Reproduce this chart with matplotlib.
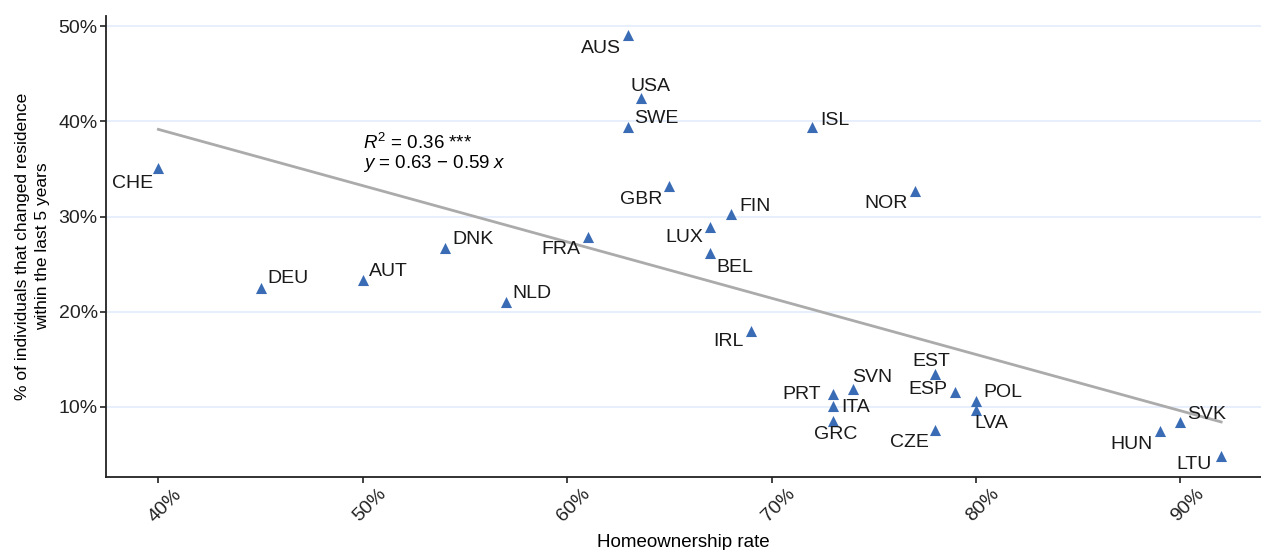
import matplotlib.pyplot as plt
import matplotlib.transforms as mtransforms
import numpy as np
from matplotlib.ticker import PercentFormatter

plt.rcParams['font.family'] = ['Liberation Sans', 'DejaVu Sans']
plt.rcParams['mathtext.fontset'] = 'custom'
plt.rcParams['mathtext.rm'] = 'Liberation Sans'
plt.rcParams['mathtext.it'] = 'Liberation Sans:italic'

# --- Datos ---
paises = ['CHE', 'DEU', 'AUT', 'DNK', 'NLD', 'FRA', 'AUS', 'USA', 'SWE', 'GBR',
          'FIN', 'LUX', 'BEL', 'ISL', 'NOR', 'IRL', 'PRT', 'ITA', 'GRC', 'SVN',
          'EST', 'ESP', 'POL', 'LVA', 'CZE', 'HUN', 'SVK', 'LTU']
propiedad = [0.400, 0.450, 0.500, 0.540, 0.570, 0.610, 0.630, 0.636, 0.630, 0.650,
             0.680, 0.670, 0.670, 0.720, 0.770, 0.690, 0.730, 0.730, 0.730, 0.740,
             0.780, 0.790, 0.800, 0.800, 0.780, 0.890, 0.900, 0.920]
mudanza = [0.351, 0.225, 0.233, 0.267, 0.2105, 0.278, 0.4905, 0.425, 0.394, 0.332,
           0.3025, 0.2885, 0.262, 0.394, 0.327, 0.180, 0.113, 0.1007, 0.085, 0.1186,
           0.134, 0.115, 0.106, 0.097, 0.075, 0.074, 0.0835, 0.0485]

# desplazamiento de etiquetas (pixeles, x derecha / y abajo)
desplaz = {
    'CHE': (-26, 15), 'DEU': (27, -9), 'AUT': (26, -9), 'DNK': (28, -8),
    'NLD': (26, -8), 'FRA': (-27, 12), 'AUS': (-27, 13), 'USA': (10, -11),
    'SWE': (28, -9), 'GBR': (-28, 13), 'FIN': (24, -8), 'LUX': (-26, 10),
    'BEL': (25, 15), 'ISL': (22, -7), 'NOR': (-29, 13), 'IRL': (-23, 11),
    'PRT': (-31, 0), 'ITA': (23, 2), 'GRC': (3, 14), 'SVN': (19, -11),
    'EST': (-4, -13), 'ESP': (-28, -3), 'POL': (27, -8), 'LVA': (15, 14),
    'CZE': (-26, 12), 'HUN': (-28, 13), 'SVK': (26, -8), 'LTU': (-27, 9),
}

x = np.array(propiedad)
y = np.array(mudanza)

fig = plt.figure(figsize=(12.61, 5.5), dpi=100)
ax = fig.add_axes([0.0841, 0.1322, 0.9159, 0.8388])

for v in [0.1, 0.2, 0.3, 0.4, 0.5]:
    ax.axhline(v, color='#e6eefc', lw=1.3, zorder=0)

# recta de regresion
pend, inter = np.polyfit(x, y, 1)
xs = np.array([x.min(), x.max()])
ax.plot(xs, inter + pend * xs, color='#ababab', lw=2.0, zorder=1)

ax.scatter(x, y, marker='^', s=64, color='#3a6bb5', zorder=3, linewidths=0)

for p, xi, yi in zip(paises, x, y):
    dx, dy = desplaz[p]
    ax.annotate(p, (xi, yi), xytext=(dx, -dy), textcoords='offset pixels',
                ha='center', va='center', fontsize=14, color='#1a1a1a')

ax.text(0.50, 0.3776, r'$R^2$ = 0.36 ***', fontsize=13.5, ha='left', va='center')
ax.text(0.50, 0.356, r'$y$ = 0.63 − 0.59 $x$', fontsize=13.5, ha='left', va='center')

ax.set_xlim(0.3744, 0.9395)
ax.set_ylim(0.0257, 0.511)
ax.set_xticks([0.4, 0.5, 0.6, 0.7, 0.8, 0.9])
ax.set_yticks([0.1, 0.2, 0.3, 0.4, 0.5])
ax.xaxis.set_major_formatter(PercentFormatter(xmax=1, decimals=0))
ax.yaxis.set_major_formatter(PercentFormatter(xmax=1, decimals=0))
ax.tick_params(axis='both', labelsize=14, length=4, width=1.2, color='#222222',
               labelcolor='#222222', pad=2)
desv = mtransforms.ScaledTranslation(7 / 100, 0, fig.dpi_scale_trans)
for lab in ax.get_xticklabels():
    lab.set_rotation(45)
    lab.set_ha('center')
    lab.set_va('top')
    lab.set_transform(lab.get_transform() + desv)

for s in ['top', 'right']:
    ax.spines[s].set_visible(False)
for s in ['left', 'bottom']:
    ax.spines[s].set_linewidth(1.3)
    ax.spines[s].set_color('#222222')

ax.set_xlabel('Homeownership rate', fontsize=13.5, labelpad=6)
ax.set_ylabel('% of individuals that changed residence\nwithin the last 5 years',
              fontsize=12.5, labelpad=6, linespacing=1.4)

fig.savefig('out.png', dpi=100)
